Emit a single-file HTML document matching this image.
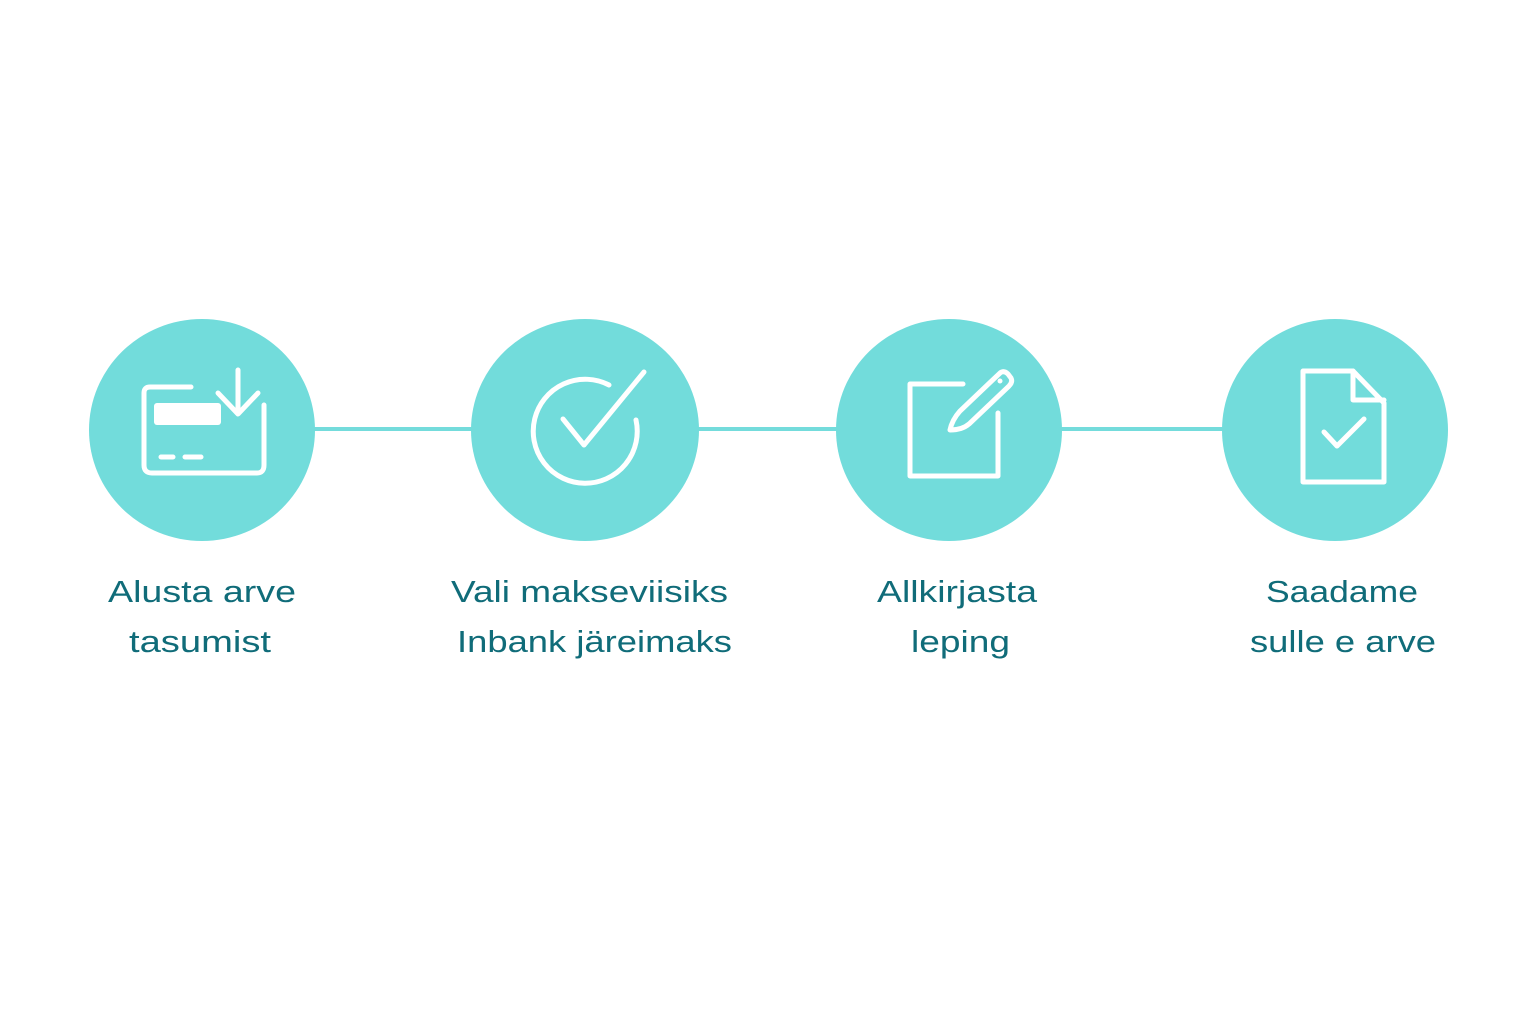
<!DOCTYPE html>
<html><head><meta charset="utf-8"><style>
html,body{margin:0;padding:0;background:#fff;width:1536px;height:1024px;overflow:hidden}
svg{display:block}
text{font-family:"Liberation Sans",sans-serif;font-size:31px;fill:#106c79}
</style></head><body>
<svg width="1536" height="1024" viewBox="0 0 1536 1024" xmlns="http://www.w3.org/2000/svg">
<line x1="300" y1="429" x2="1240" y2="429" stroke="#74dcdc" stroke-width="4"/>
<g fill="#72dcdb">
<ellipse cx="202" cy="430" rx="113" ry="111"/>
<ellipse cx="585" cy="430" rx="114" ry="111"/>
<ellipse cx="949" cy="430" rx="113" ry="111"/>
<ellipse cx="1335" cy="430" rx="113" ry="111"/>
</g>
<g fill="none" stroke="#fff" stroke-width="5" stroke-linecap="round" stroke-linejoin="round">
<!-- icon 1 -->
<path d="M191 387 H150 Q144 387 144 393 V465 Q144 473 152 473 H257 Q264 473 264 465 V405"/>
<path d="M218 393 L238 414 L258 393 M238 370 V412"/>
<path d="M161 457 H173 M185 457 H201"/>
<!-- icon 2 -->
<path d="M609 385 A52 52 0 1 0 636 420"/>
<path d="M563 419 L584 445 L644 372"/>
<!-- icon 3 -->
<path d="M963 384 H910 V476 H998 V413"/>
<path d="M950 430 Q952 420 960 411 L1000 373 Q1004 370 1008 374 L1011 378 Q1013 382 1009 386 L969 424 Q962 430 950 430 Z"/>
<!-- icon 4 -->
<path d="M1303 371 H1353 L1384 403 V482 H1303 Z"/>
<path d="M1353 371 V400 H1384"/>
<path d="M1324 432 L1337 446 L1364 419"/>
</g>
<rect x="154" y="403" width="67" height="22" rx="3" fill="#fff"/>
<circle cx="1000" cy="381" r="2.5" fill="#fff"/>
<text x="108" y="602" textLength="188" lengthAdjust="spacingAndGlyphs">Alusta arve</text>
<text x="129" y="652" textLength="142" lengthAdjust="spacingAndGlyphs">tasumist</text>
<text x="451" y="602" textLength="277" lengthAdjust="spacingAndGlyphs">Vali makseviisiks</text>
<text x="457" y="652" textLength="275" lengthAdjust="spacingAndGlyphs">Inbank järeimaks</text>
<text x="877" y="602" textLength="160" lengthAdjust="spacingAndGlyphs">Allkirjasta</text>
<text x="911" y="652" textLength="99" lengthAdjust="spacingAndGlyphs">leping</text>
<text x="1266" y="602" textLength="152" lengthAdjust="spacingAndGlyphs">Saadame</text>
<text x="1250" y="652" textLength="186" lengthAdjust="spacingAndGlyphs">sulle e arve</text>
</svg>
</body></html>
